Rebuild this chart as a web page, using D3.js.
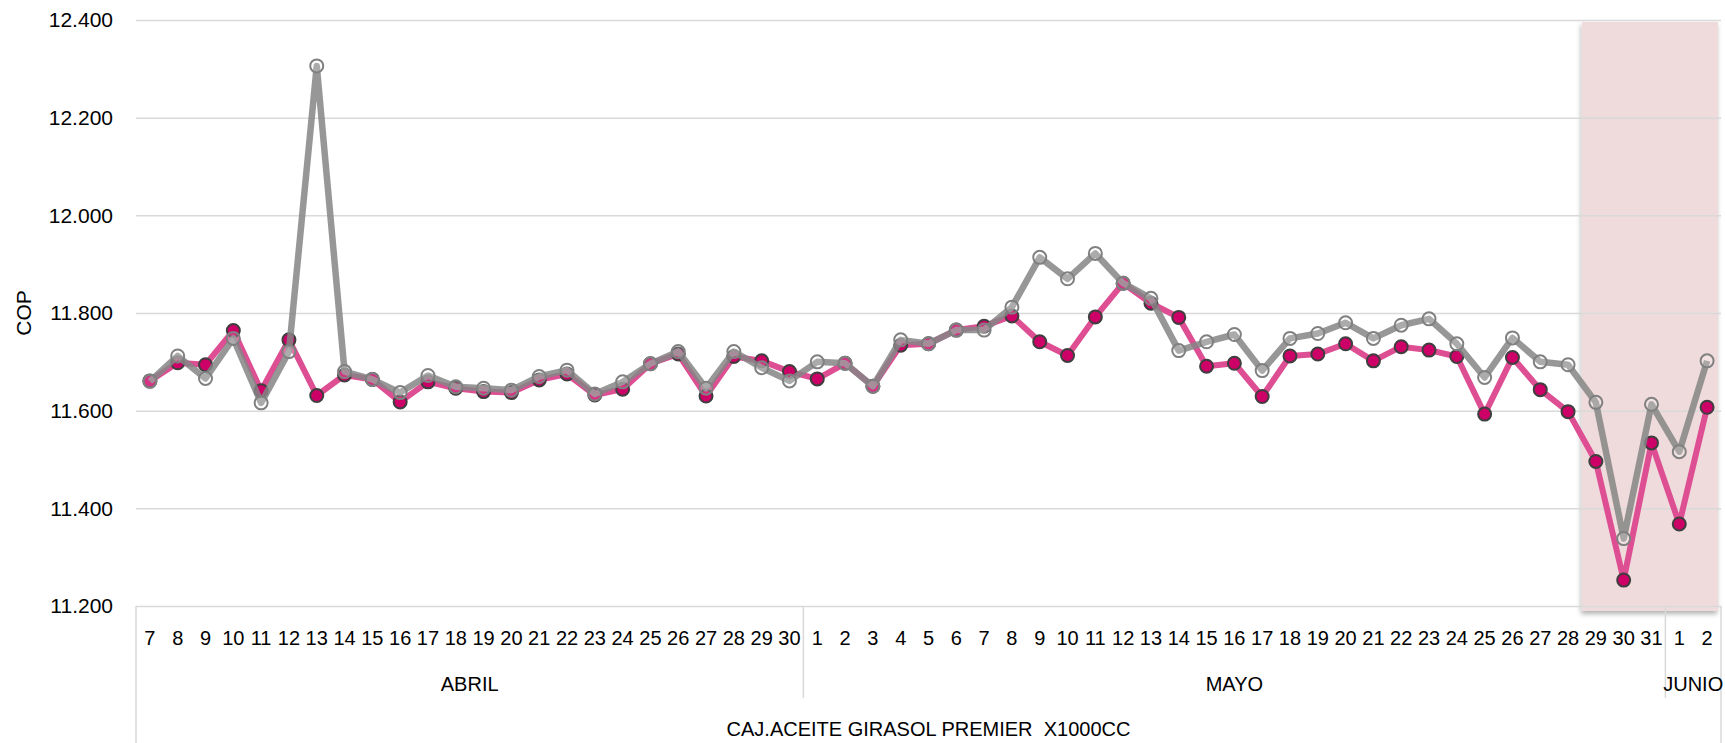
<!DOCTYPE html>
<html>
<head>
<meta charset="utf-8">
<script src="https://cdn.jsdelivr.net/npm/d3@7"></script>
<style>
  html, body { margin: 0; padding: 0; background: #ffffff; }
  svg { display: block; }
  text { font-family: "Liberation Sans", Arial, sans-serif; fill: #000000; white-space: pre; }
</style>
</head>
<body>
<svg id="chart" width="1725" height="743"></svg>
<script>
// ---------------- DATA ----------------
const months = ["ABRIL", "MAYO", "JUNIO"];
const aprilDays = [7,8,9,10,11,12,13,14,15,16,17,18,19,20,21,22,23,24,25,26,27,28,29,30];
const mayDays = [1,2,3,4,5,6,7,8,9,10,11,12,13,14,15,16,17,18,19,20,21,22,23,24,25,26,27,28,29,30,31];
const juneDays = [1,2];
const productLabel = "CAJ.ACEITE GIRASOL PREMIER  X1000CC";
const yAxisTitle = "COP";
const yTicks = [11200, 11400, 11600, 11800, 12000, 12200, 12400];

// Pink series (filled markers)
const seriesPink = [
  11661, 11698, 11694, 11764, 11641, 11745, 11631, 11673, 11664, 11618, 11659, 11646,
  11639, 11637, 11663, 11675, 11632, 11644, 11696, 11716, 11630, 11711, 11702, 11680,
  11665, 11697, 11650, 11734, 11737, 11765, 11773, 11794, 11741, 11713, 11792, 11861,
  11820, 11791, 11691, 11697, 11629, 11712, 11716, 11737, 11702, 11731, 11724, 11711,
  11593, 11709, 11643, 11598, 11496, 11253, 11534,
  11368, 11607
];
// Gray series (hollow markers)
const seriesGray = [
  11660, 11712, 11666, 11748, 11616, 11721, 12306, 11680, 11664, 11637, 11672, 11649,
  11646, 11642, 11670, 11683, 11634, 11659, 11696, 11721, 11646, 11721, 11688, 11661,
  11700, 11697, 11650, 11745, 11737, 11765, 11765, 11812, 11914, 11870, 11922, 11861,
  11830, 11723, 11741, 11756, 11682, 11748, 11758, 11780, 11748, 11775, 11788, 11737,
  11668, 11749, 11700, 11694, 11617, 11338, 11613,
  11516, 11702
];
// Highlighted range (first and last category index, inclusive)
const highlightFrom = 52; // May 29
const highlightTo = 56;   // June 2

// ---------------- BUILD ----------------
const groups = [
  { name: months[0], days: aprilDays },
  { name: months[1], days: mayDays },
  { name: months[2], days: juneDays }
];
const cats = [];
groups.forEach((g, gi) => g.days.forEach(d => cats.push({ key: gi + "-" + d, day: d, group: gi })));

const svg = d3.select("#chart");
const W = 1725, H = 743;
const m = { left: 136, right: 4, top: 20, bottom: 137 };
const plotR = W - m.right, plotB = H - m.bottom;

const x = d3.scaleBand().domain(cats.map(c => c.key)).range([m.left, plotR]).paddingInner(0).paddingOuter(0);
const y = d3.scaleLinear().domain([11200, 12400]).range([plotB, m.top]);
const loc = d3.formatLocale({ decimal: ",", thousands: ".", grouping: [3], currency: ["$", ""] });
const fmt = loc.format(",.0f");

const defs = svg.append("defs");
const f = defs.append("filter").attr("id", "shadow").attr("x", "-10%").attr("y", "-5%").attr("width", "120%").attr("height", "110%");
f.append("feDropShadow").attr("dx", -1).attr("dy", 3).attr("stdDeviation", 2.5).attr("flood-color", "#000").attr("flood-opacity", 0.3);

// Highlight box
const hx0 = x(cats[highlightFrom].key);
const hx1 = x(cats[highlightTo].key) + x.bandwidth() - 3;
svg.append("rect")
  .attr("x", hx0).attr("y", y(12400) + 2)
  .attr("width", hx1 - hx0).attr("height", y(11200) - y(12400) + 3)
  .attr("fill", "#EFDBDC").attr("filter", "url(#shadow)");

// Gridlines + y labels
const yAxis = d3.axisLeft(y).tickValues(yTicks).tickSize(-(plotR - m.left)).tickFormat(fmt).tickPadding(23);
const gy = svg.append("g").attr("transform", `translate(${m.left},0)`).call(yAxis);
gy.select(".domain").remove();
gy.selectAll(".tick line").attr("stroke", "#D9D9D9").attr("stroke-width", 1.5);
gy.selectAll(".tick text").attr("font-size", 21).attr("fill", "#000").style("font-family", "'Liberation Sans', Arial, sans-serif");

// Y axis title
svg.append("text")
  .attr("transform", `translate(31,${(m.top + plotB) / 2}) rotate(-90)`)
  .attr("text-anchor", "middle").attr("font-size", 21).text(yAxisTitle);

// Category axis box lines
const lineCol = "#D9D9D9";
const boxLines = svg.append("g").attr("stroke", lineCol).attr("stroke-width", 1.5);
boxLines.append("line").attr("x1", m.left).attr("x2", m.left).attr("y1", plotB).attr("y2", H);
boxLines.append("line").attr("x1", plotR).attr("x2", plotR).attr("y1", plotB).attr("y2", H);
let idx = 0;
groups.forEach((g, gi) => {
  const first = cats[idx], last = cats[idx + g.days.length - 1];
  const gx0 = x(first.key), gx1 = x(last.key) + x.bandwidth();
  if (gi > 0) {
    boxLines.append("line").attr("x1", gx0).attr("x2", gx0).attr("y1", plotB).attr("y2", 698);
  }
  svg.append("text").attr("x", (gx0 + gx1) / 2).attr("y", 691)
    .attr("text-anchor", "middle").attr("font-size", 20).text(g.name);
  idx += g.days.length;
});

// Day tick labels
svg.append("g").selectAll("text").data(cats).join("text")
  .attr("x", d => x(d.key) + x.bandwidth() / 2)
  .attr("y", 645)
  .attr("text-anchor", "middle").attr("font-size", 20)
  .text(d => d.day);

// Product label
svg.append("text").attr("x", (m.left + plotR) / 2).attr("y", 736)
  .attr("text-anchor", "middle").attr("font-size", 20).attr("xml:space", "preserve").text(productLabel);

// Series
const cx = i => x(cats[i].key) + x.bandwidth() / 2;
const line = d3.line().x((d, i) => cx(i)).y(d => y(d));

svg.append("path").datum(seriesPink).attr("d", line)
  .attr("fill", "none").attr("stroke", "#DD4E93").attr("stroke-width", 6).attr("stroke-linejoin", "round");
svg.append("g").selectAll("circle").data(seriesPink).join("circle")
  .attr("cx", (d, i) => cx(i)).attr("cy", d => y(d)).attr("r", 6.5)
  .attr("fill", "#CC0066").attr("stroke", "#3F3F3F").attr("stroke-width", 2);

svg.append("path").datum(seriesGray).attr("d", line)
  .attr("fill", "none").attr("stroke", "#858585").attr("stroke-opacity", 0.85)
  .attr("stroke-width", 6.5).attr("stroke-linejoin", "round");
svg.append("g").selectAll("circle").data(seriesGray).join("circle")
  .attr("cx", (d, i) => cx(i)).attr("cy", d => y(d)).attr("r", 6.5)
  .attr("fill", "#FFFFFF").attr("fill-opacity", 0.2)
  .attr("stroke", "#808080").attr("stroke-width", 2);
</script>
</body>
</html>
